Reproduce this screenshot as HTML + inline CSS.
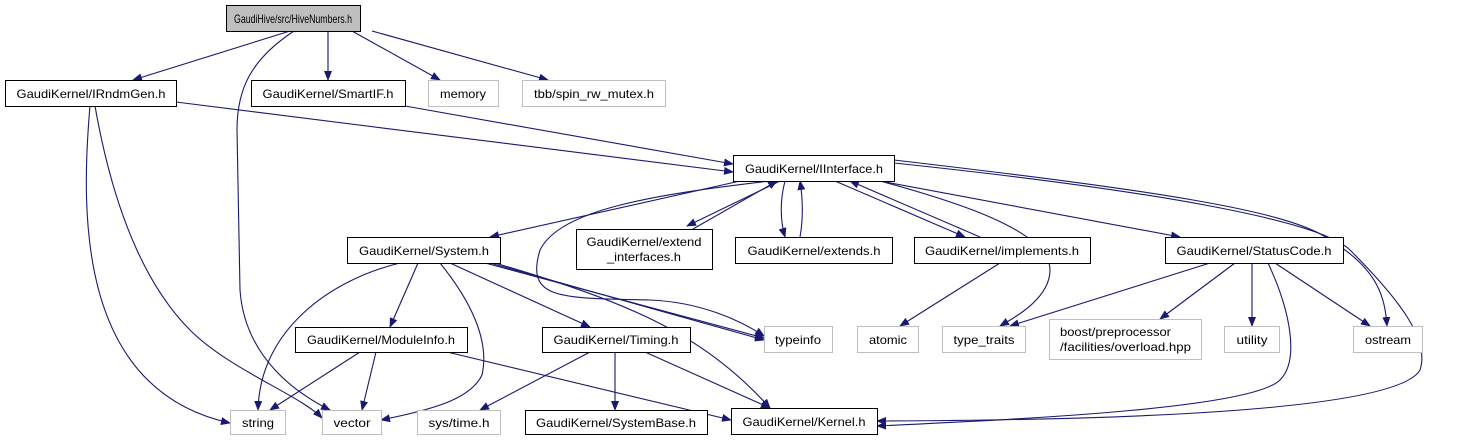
<!DOCTYPE html>
<html><head><meta charset="utf-8"><style>
html,body{margin:0;padding:0;background:#fff;}
svg{display:block;}
text{font-family:"Liberation Sans",sans-serif;font-size:12px;fill:#000;}
</style></head><body>
<svg width="1458" height="440" viewBox="0 0 1458 440" xmlns="http://www.w3.org/2000/svg">
<defs><marker id="a" markerWidth="10" markerHeight="8" refX="9" refY="4" orient="auto" markerUnits="userSpaceOnUse"><path d="M0,0 L10,4 L0,8 z" fill="#191970"/></marker></defs>
<g fill="none" stroke="#191970" stroke-width="1.1" marker-end="url(#a)">
<path d="M290,31 L133,80"/>
<path d="M294,31 C250,60 237,90 237,130 L240,290 C245,360 300,395 330,410"/>
<path d="M328,31 L328,80"/>
<path d="M352,31 L440,80"/>
<path d="M372,31 L548,80"/>
<path d="M176,102 L733,172"/>
<path d="M405,106 L733,164"/>
<path d="M90,106 C80,220 80,390 230,423"/>
<path d="M95,106 C115,220 150,290 190,330 C230,370 300,395 322,418"/>
<path d="M740,181 L490,237"/>
<path d="M780,181 L687,226"/>
<path d="M693,229 L777,181"/>
<path d="M785,181 C780,200 780,220 785,237"/>
<path d="M800,237 C803,220 803,200 800,181"/>
<path d="M835,181 L965,237"/>
<path d="M980,237 L850,181"/>
<path d="M880,181 L1180,237"/>
<path d="M770,181 C650,195 560,210 540,250 C525,300 560,298 650,300 C700,302 740,320 764,336"/>
<path d="M880,181 C950,200 1050,230 1050,270 C1050,300 1010,320 1000,326"/>
<path d="M894,160 C1150,190 1290,210 1330,240 C1380,270 1385,300 1387,326"/>
<path d="M894,163 C1150,190 1320,220 1350,250 C1400,300 1430,340 1420,370 C1400,405 1200,420 877,421"/>
<path d="M400,263 C330,280 260,330 258,410"/>
<path d="M418,263 L390,327"/>
<path d="M440,263 C470,300 490,340 482,375 C470,400 430,410 381,420"/>
<path d="M450,263 L590,327"/>
<path d="M485,263 L764,338"/>
<path d="M490,263 L764,340"/>
<path d="M495,263 C620,300 700,330 770,408"/>
<path d="M360,352 L270,410"/>
<path d="M376,352 L362,410"/>
<path d="M447,352 L731,420"/>
<path d="M590,352 L480,410"/>
<path d="M615,352 L615,410"/>
<path d="M645,352 L770,408"/>
<path d="M1000,263 L900,326"/>
<path d="M1210,263 L1010,326"/>
<path d="M1235,263 L1160,319"/>
<path d="M1252,263 L1252,326"/>
<path d="M1268,263 C1290,310 1300,360 1280,380 C1250,410 1000,420 877,426"/>
<path d="M1275,263 L1370,326"/>
</g>
<g stroke-width="1">
<rect x="226.5" y="5.5" width="134" height="26" fill="#bfbfbf" stroke="#000"/>
<rect x="5.5" y="80.5" width="171" height="26" fill="#fff" stroke="#000"/>
<rect x="251.5" y="80.5" width="154" height="26" fill="#fff" stroke="#000"/>
<rect x="428.5" y="80.5" width="70" height="26" fill="#fff" stroke="#bfbfbf"/>
<rect x="522.5" y="80.5" width="143" height="26" fill="#fff" stroke="#bfbfbf"/>
<rect x="733.5" y="155.5" width="161" height="26" fill="#fff" stroke="#000"/>
<rect x="347.5" y="237.5" width="153" height="26" fill="#fff" stroke="#000"/>
<rect x="576.5" y="229.5" width="136" height="40" fill="#fff" stroke="#000"/>
<rect x="735.5" y="237.5" width="157" height="26" fill="#fff" stroke="#000"/>
<rect x="914.5" y="237.5" width="176" height="26" fill="#fff" stroke="#000"/>
<rect x="1165.5" y="237.5" width="178" height="26" fill="#fff" stroke="#000"/>
<rect x="764.5" y="326.5" width="68" height="26" fill="#fff" stroke="#bfbfbf"/>
<rect x="857.5" y="326.5" width="61" height="26" fill="#fff" stroke="#bfbfbf"/>
<rect x="942.5" y="326.5" width="83" height="26" fill="#fff" stroke="#bfbfbf"/>
<rect x="1049.5" y="319.5" width="152" height="40" fill="#fff" stroke="#bfbfbf"/>
<rect x="1224.5" y="326.5" width="55" height="26" fill="#fff" stroke="#bfbfbf"/>
<rect x="1353.5" y="326.5" width="69" height="26" fill="#fff" stroke="#bfbfbf"/>
<rect x="295.5" y="327.5" width="172" height="25" fill="#fff" stroke="#000"/>
<rect x="542.5" y="327.5" width="148" height="25" fill="#fff" stroke="#000"/>
<rect x="230.5" y="410.5" width="55" height="24" fill="#fff" stroke="#bfbfbf"/>
<rect x="322.5" y="410.5" width="59" height="24" fill="#fff" stroke="#bfbfbf"/>
<rect x="417.5" y="410.5" width="83" height="24" fill="#fff" stroke="#bfbfbf"/>
<rect x="525.5" y="410.5" width="182" height="24" fill="#fff" stroke="#000"/>
<rect x="731.5" y="408.5" width="146" height="26" fill="#fff" stroke="#000"/>
</g>
<g text-anchor="middle" lengthAdjust="spacingAndGlyphs">
<text x="293" y="23" textLength="118" lengthAdjust="spacingAndGlyphs">GaudiHive/src/HiveNumbers.h</text>
<text x="91" y="98" textLength="149" lengthAdjust="spacingAndGlyphs">GaudiKernel/IRndmGen.h</text>
<text x="328" y="98" textLength="131" lengthAdjust="spacingAndGlyphs">GaudiKernel/SmartIF.h</text>
<text x="463" y="98" textLength="46" lengthAdjust="spacingAndGlyphs">memory</text>
<text x="594" y="98" textLength="120" lengthAdjust="spacingAndGlyphs">tbb/spin_rw_mutex.h</text>
<text x="814" y="173" textLength="138" lengthAdjust="spacingAndGlyphs">GaudiKernel/IInterface.h</text>
<text x="424" y="255" textLength="130" lengthAdjust="spacingAndGlyphs">GaudiKernel/System.h</text>
<text x="644" y="246" textLength="115" lengthAdjust="spacingAndGlyphs">GaudiKernel/extend</text>
<text x="644" y="261" textLength="74" lengthAdjust="spacingAndGlyphs">_interfaces.h</text>
<text x="814" y="255" textLength="133" lengthAdjust="spacingAndGlyphs">GaudiKernel/extends.h</text>
<text x="1002" y="255" textLength="154" lengthAdjust="spacingAndGlyphs">GaudiKernel/implements.h</text>
<text x="1254" y="255" textLength="155" lengthAdjust="spacingAndGlyphs">GaudiKernel/StatusCode.h</text>
<text x="798" y="344" textLength="46" lengthAdjust="spacingAndGlyphs">typeinfo</text>
<text x="888" y="344" textLength="38" lengthAdjust="spacingAndGlyphs">atomic</text>
<text x="984" y="344" textLength="61" lengthAdjust="spacingAndGlyphs">type_traits</text>
<text x="1060" y="336" text-anchor="start" textLength="111" lengthAdjust="spacingAndGlyphs">boost/preprocessor</text>
<text x="1060" y="351" text-anchor="start" textLength="131" lengthAdjust="spacingAndGlyphs">/facilities/overload.hpp</text>
<text x="1252" y="344" textLength="31" lengthAdjust="spacingAndGlyphs">utility</text>
<text x="1388" y="344" textLength="46" lengthAdjust="spacingAndGlyphs">ostream</text>
<text x="381" y="344" textLength="148" lengthAdjust="spacingAndGlyphs">GaudiKernel/ModuleInfo.h</text>
<text x="616" y="344" textLength="125" lengthAdjust="spacingAndGlyphs">GaudiKernel/Timing.h</text>
<text x="258" y="427" textLength="32" lengthAdjust="spacingAndGlyphs">string</text>
<text x="352" y="427" textLength="37" lengthAdjust="spacingAndGlyphs">vector</text>
<text x="459" y="427" textLength="61" lengthAdjust="spacingAndGlyphs">sys/time.h</text>
<text x="616" y="427" textLength="160" lengthAdjust="spacingAndGlyphs">GaudiKernel/SystemBase.h</text>
<text x="804" y="426" textLength="123" lengthAdjust="spacingAndGlyphs">GaudiKernel/Kernel.h</text>
</g>
</svg>
</body></html>
